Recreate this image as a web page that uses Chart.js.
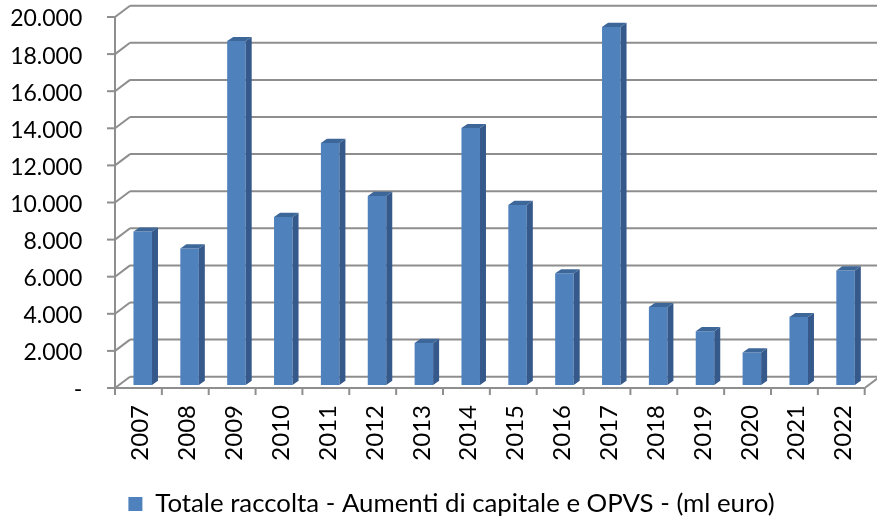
<!DOCTYPE html>
<html>
<head>
<meta charset="utf-8">
<script src="https://cdn.jsdelivr.net/npm/chart.js@4.4.0/dist/chart.umd.min.js"></script>
<style>
  html, body { margin: 0; padding: 0; background: #fff; }
</style>
</head>
<body>
<canvas id="chart-raccolta" width="877" height="518"></canvas>
<script>
'use strict';

// data (ml euro)
const years = ['2007','2008','2009','2010','2011','2012','2013','2014','2015','2016','2017','2018','2019','2020','2021','2022'];
const raccolta = [8270, 7360, 18540, 9060, 13050, 10190, 2270, 13850, 9710, 6020, 19300, 4200, 2900, 1750, 3660, 6170];
const yTicks = [0, 2000, 4000, 6000, 8000, 10000, 12000, 14000, 16000, 18000, 20000];
const seriesLabel = 'Totale raccolta - Aumenti di capitale e OPVS - (ml euro)';

const FONT = 'Lato';
const BAR = '#4F81BD', BAR_SIDE = '#35598A', BAR_TOP = '#3E6799';
const GRID = '#8E8E8E';

// oblique offsets of the 3d frame, relative to the plane the bars sit in
const FRONT = { dx: -4.3, dy: 3 };
const BACK = { dx: 10.7, dy: -8.3 };
const BAR_DEPTH = { dx: 6, dy: -4.2 };

function fmtTick(v) {
  if (v === 0) return '-';
  return String(v).replace(/\B(?=(\d{3})+(?!\d))/g, '.');
}

const depth3d = {
  id: 'depth3d',
  afterLayout(chart) {
    // legend sits right of centre and close to the bottom edge in the original
    const lg = chart.legend;
    if (lg) { lg.left += 17; lg.right += 17; lg.top += 9; lg.bottom += 9; }
  },
  beforeDatasetsDraw(chart) {
    const { ctx, chartArea: a, scales: { x, y } } = chart;
    const line = (x1, y1, x2, y2) => { ctx.beginPath(); ctx.moveTo(x1, y1); ctx.lineTo(x2, y2); ctx.stroke(); };
    const fl = a.left + FRONT.dx, fr = a.right + FRONT.dx;
    const y0 = y.getPixelForValue(0);
    ctx.save();
    ctx.lineWidth = 2;
    ctx.strokeStyle = GRID;
    yTicks.forEach(v => {
      const py = y.getPixelForValue(v);
      line(fl, py + FRONT.dy, a.left + BACK.dx, py + BACK.dy);
      line(a.left + BACK.dx, py + BACK.dy, a.right + BACK.dx + 10, py + BACK.dy);
      line(fl - 8, py + FRONT.dy, fl, py + FRONT.dy);
    });
    // front left axis and floor
    line(fl, y.getPixelForValue(yTicks[yTicks.length - 1]) + FRONT.dy, fl, y0 + FRONT.dy);
    line(fl, y0 + FRONT.dy, fr, y0 + FRONT.dy);
    line(fr, y0 + FRONT.dy, a.right + BACK.dx, y0 + BACK.dy);
    for (let i = 0; i <= years.length; i++) {
      const px = x.getPixelForValue(i - 0.5) + FRONT.dx;
      line(px, y0 + FRONT.dy, px, y0 + FRONT.dy + 7);
    }
    ctx.restore();
  },
  afterDatasetsDraw(chart) {
    const { ctx } = chart;
    const meta = chart.getDatasetMeta(0);
    ctx.save();
    meta.data.forEach(bar => {
      const l = bar.x - bar.width / 2, r = bar.x + bar.width / 2;
      const t = bar.y, b = bar.base;
      const { dx, dy } = BAR_DEPTH;
      ctx.fillStyle = BAR_SIDE;
      ctx.beginPath();
      ctx.moveTo(r, t); ctx.lineTo(r + dx, t + dy); ctx.lineTo(r + dx, b + dy); ctx.lineTo(r, b);
      ctx.closePath(); ctx.fill();
      ctx.fillStyle = BAR_TOP;
      ctx.beginPath();
      ctx.moveTo(l, t); ctx.lineTo(l + dx, t + dy); ctx.lineTo(r + dx, t + dy); ctx.lineTo(r, t);
      ctx.closePath(); ctx.fill();
    });
    ctx.restore();
  }
};

new Chart(document.getElementById('chart-raccolta'), {
  type: 'bar',
  data: {
    labels: years,
    datasets: [{ label: seriesLabel, data: raccolta, backgroundColor: BAR, borderWidth: 0, barPercentage: 0.395, categoryPercentage: 1 }]
  },
  options: {
    responsive: false,
    animation: false,
    layout: { padding: { left: 0, right: 8, top: 14, bottom: 0 } },
    plugins: {
      legend: {
        position: 'bottom',
        labels: { color: '#000', font: { family: FONT, size: 25.8 }, boxWidth: 14, boxHeight: 14, padding: 10 }
      },
      tooltip: { enabled: false }
    },
    scales: {
      x: {
        grid: { display: false, drawTicks: true, tickLength: 20 },
        border: { display: false },
        ticks: { color: '#000', font: { family: FONT, size: 24 }, minRotation: 90, maxRotation: 90, padding: 0, labelOffset: -2, autoSkip: false },
        afterFit: s => { s.height = 87.2; }
      },
      y: {
        min: 0, max: 20000,
        grid: { display: false, drawTicks: true, tickLength: 37 },
        border: { display: false },
        ticks: { color: '#000', font: { family: FONT, size: 23 }, stepSize: 2000, padding: 0, labelOffset: 5, callback: v => fmtTick(v) },
        afterFit: s => { s.width = 119.3; }
      }
    }
  },
  plugins: [depth3d]
});
</script>
</body>
</html>
